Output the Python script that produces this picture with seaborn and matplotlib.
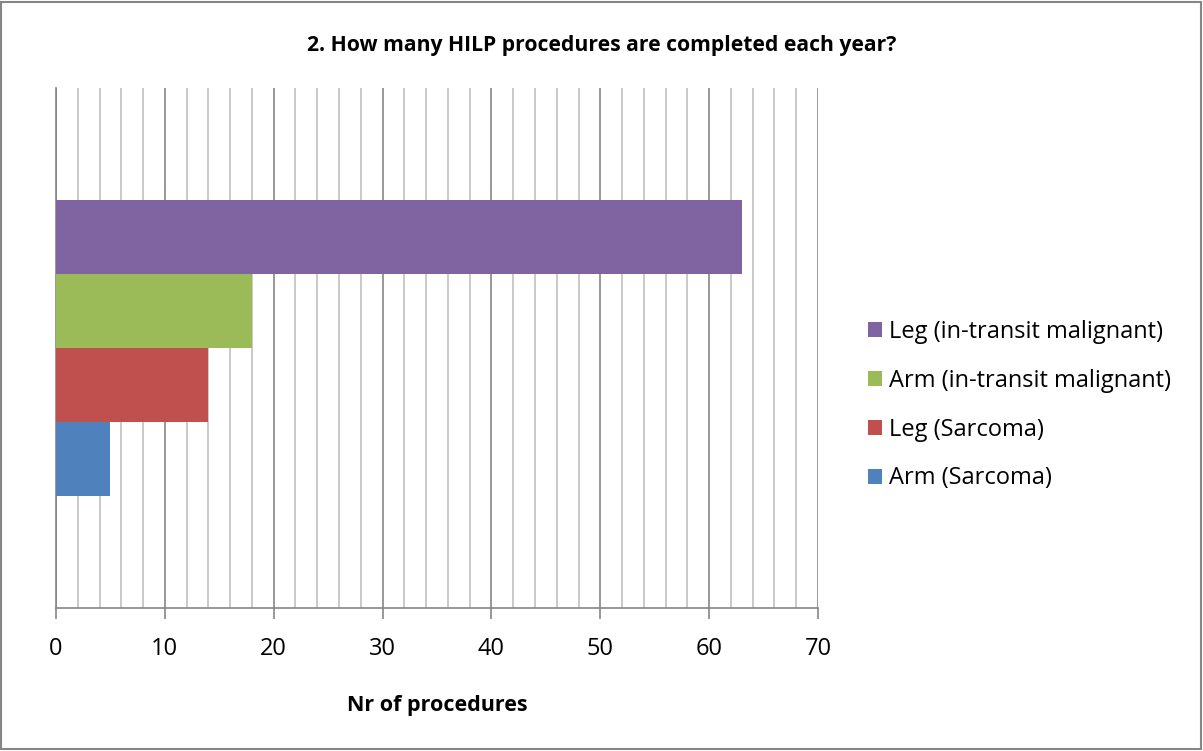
import pandas as pd
import numpy as np
import matplotlib
matplotlib.use("Agg")
import matplotlib.pyplot as plt
import seaborn as sns
from matplotlib.patches import Rectangle

# data
series = ["Leg (in-transit malignant)", "Arm (in-transit malignant)",
          "Leg (Sarcoma)", "Arm (Sarcoma)"]
values = [63, 18, 14, 5]
colors = ["#8064A2", "#9BBB59", "#C0504D", "#4F81BD"]
xticks = [0, 10, 20, 30, 40, 50, 60, 70]

df = pd.DataFrame({"group": ["all"] * len(series), "series": series, "value": values})

sns.set_style("white")
plt.rcParams["font.family"] = ["Open Sans", "DejaVu Sans"]
plt.rcParams["text.color"] = "black"
plt.rcParams["xtick.color"] = "black"
plt.rcParams["axes.labelcolor"] = "black"

fig = plt.figure(figsize=(12.03, 7.51), dpi=100)
ax = fig.add_axes([56 / 1203, 1 - 608 / 751, (818 - 56) / 1203, (608 - 88) / 751])

sns.barplot(data=df, x="value", y="group", hue="series", hue_order=series,
            palette=colors, orient="h", width=0.571, saturation=1,
            linewidth=0, ax=ax, zorder=3)

ax.set_xlim(0, 70)
ax.set_ylim(0.5, -0.5)
ax.set_xticks(xticks)
ax.set_xticks(np.arange(0, 71, 2), minor=True)
ax.set_xticklabels([str(t) for t in xticks], fontsize=17)
ax.set_yticks([])
ax.set_ylabel("")
ax.set_xlabel("Nr of procedures", fontsize=15.5, fontweight="bold", labelpad=24)

ax.grid(axis="x", which="minor", color="#c0c0c0", linewidth=1.2, zorder=0)
ax.grid(axis="x", which="major", color="#868686", linewidth=1.2, zorder=0)
ax.set_axisbelow(True)
ax.tick_params(axis="x", which="major", direction="out", length=8, width=1.2,
               color="#868686", labelcolor="black", pad=13, bottom=True)
ax.tick_params(axis="x", which="minor", length=0)
for side in ["top", "right"]:
    ax.spines[side].set_visible(False)
for side in ["left", "bottom"]:
    ax.spines[side].set_color("#868686")
    ax.spines[side].set_linewidth(1.2)

ax.legend(loc="center left", bbox_to_anchor=(1.065, 0.39), frameon=False,
          fontsize=17, handlelength=0.6, handleheight=0.6, handletextpad=0.3,
          labelspacing=1.05, borderaxespad=0, borderpad=0)

fig.text(0.5, 1 - 45 / 751, "2. How many HILP procedures are completed each year?",
         ha="center", va="center", fontsize=15.2, fontweight="bold")

fig.patches.append(Rectangle((0.001, 0.002), 0.997, 0.995, transform=fig.transFigure,
                             fill=False, edgecolor="#868686", linewidth=1.5))

fig.savefig("out.png", dpi=100)
